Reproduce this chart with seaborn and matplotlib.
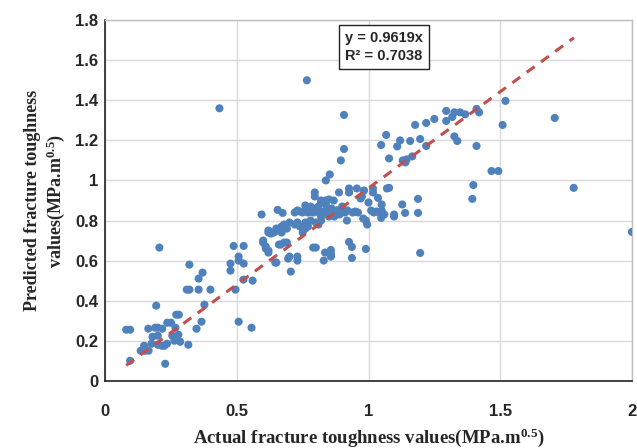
import numpy as np
import pandas as pd
import matplotlib
matplotlib.use("Agg")
import matplotlib.pyplot as plt
import seaborn as sns

# Actual (x) and predicted (y) fracture toughness values
actual = [
    # low region
    0.08, 0.095, 0.206, 0.32, 0.37, 0.355, 0.31, 0.32, 0.355, 0.40, 0.377, 0.366, 0.347,
    0.194, 0.27, 0.28, 0.25, 0.236, 0.164, 0.19, 0.20, 0.217, 0.267, 0.18, 0.20, 0.255,
    0.278, 0.263, 0.285, 0.316, 0.176, 0.20, 0.215, 0.225, 0.235, 0.148, 0.135, 0.15,
    0.165, 0.095, 0.228, 0.507, 0.556, 0.434,
    # 0.45 - 0.7
    0.488, 0.526, 0.507, 0.507, 0.476, 0.526, 0.476, 0.525, 0.56, 0.495,
    0.60, 0.61, 0.62, 0.62, 0.64, 0.63, 0.65, 0.66, 0.594, 0.655, 0.674,
    0.62, 0.645, 0.65, 0.67, 0.68, 0.70, 0.69, 0.67, 0.60, 0.61, 0.62,
    0.667, 0.68, 0.69, 0.646, 0.705, 0.70, 0.695, 0.73, 0.73,
    # 0.7 - 0.9 lower
    0.74, 0.76, 0.77, 0.75, 0.81, 0.80, 0.79, 0.83, 0.835, 0.857, 0.857,
    0.72, 0.73, 0.76, 0.78, 0.80, 0.82, 0.766,
    # main band ~0.84
    0.72, 0.73, 0.74, 0.75, 0.76, 0.77, 0.78, 0.79, 0.80, 0.81, 0.82, 0.83, 0.84,
    0.85, 0.86, 0.87, 0.88, 0.89, 0.90, 0.91, 0.92, 0.94, 0.95, 0.96, 1.01, 1.02,
    1.03, 1.04, 0.77, 0.79, 0.81, 0.86, 0.88, 0.90, 0.82, 0.85, 0.87, 0.89,
    0.76, 0.78,
    # 0.8 - 1.1 upper
    0.895, 0.853, 0.838, 0.907, 0.907, 0.796, 0.796, 0.888, 0.926, 0.926, 0.956,
    0.983, 1.017, 1.017, 1.07, 0.838, 0.838, 0.868, 0.85, 0.82, 0.82, 0.97, 0.975,
    1.0, 1.05, 1.05, 1.036, 1.078, 1.097, 1.097, 1.128, 1.139, 1.188, 1.188, 1.196,
    0.918, 0.98, 0.99, 0.995, 1.048, 1.06, 0.926, 0.937, 0.937, 0.99, 0.857, 0.857,
    # upper right
    1.048, 1.067, 1.078, 1.109, 1.12, 1.158, 1.13, 1.14, 1.145, 1.166, 1.177, 1.196,
    1.219, 1.219, 1.25, 1.295, 1.295, 1.318, 1.326, 1.348, 1.367, 1.326, 1.337, 1.41,
    1.41, 1.42, 1.509, 1.52, 1.467, 1.493, 1.398, 1.394, 1.707, 1.779, 2.0,
]
predicted = [
    # low region
    0.255, 0.255, 0.665, 0.58, 0.54, 0.51, 0.455, 0.455, 0.455, 0.455, 0.38, 0.295, 0.26,
    0.375, 0.33, 0.33, 0.29, 0.29, 0.26, 0.265, 0.265, 0.26, 0.265, 0.22, 0.225, 0.225,
    0.23, 0.20, 0.195, 0.18, 0.185, 0.18, 0.175, 0.175, 0.185, 0.175, 0.15, 0.15,
    0.15, 0.10, 0.085, 0.295, 0.265, 1.36,
    # 0.45 - 0.7
    0.673, 0.673, 0.62, 0.60, 0.585, 0.585, 0.55, 0.505, 0.50, 0.455,
    0.70, 0.67, 0.65, 0.75, 0.74, 0.735, 0.59, 0.68, 0.83, 0.853, 0.838,
    0.74, 0.745, 0.76, 0.77, 0.78, 0.79, 0.76, 0.74, 0.69, 0.66, 0.64,
    0.68, 0.69, 0.69, 0.59, 0.545, 0.62, 0.61, 0.62, 0.60,
    # 0.7 - 0.9 lower
    0.77, 0.76, 0.77, 0.74, 0.78, 0.665, 0.665, 0.60, 0.64, 0.64, 0.62,
    0.78, 0.79, 0.79, 0.80, 0.79, 0.80, 1.50,
    # main band ~0.84
    0.84, 0.85, 0.845, 0.84, 0.85, 0.84, 0.845, 0.84, 0.85, 0.84, 0.845, 0.84, 0.85,
    0.84, 0.845, 0.84, 0.85, 0.84, 0.845, 0.84, 0.85, 0.84, 0.845, 0.84, 0.85, 0.84,
    0.845, 0.84, 0.86, 0.86, 0.87, 0.86, 0.85, 0.87, 0.82, 0.82, 0.82, 0.83,
    0.875, 0.87,
    # 0.8 - 1.1 upper
    1.10, 1.03, 1.00, 1.327, 1.157, 0.94, 0.92, 0.94, 0.96, 0.94, 0.96,
    0.95, 0.96, 0.94, 0.96, 0.90, 0.88, 0.90, 0.905, 0.90, 0.89, 0.91, 0.92,
    0.89, 0.88, 0.85, 0.913, 0.963, 0.83, 0.82, 0.88, 0.838, 0.838, 0.908, 0.638,
    0.80, 0.81, 0.80, 0.78, 0.813, 0.83, 0.693, 0.668, 0.613, 0.658, 0.653, 0.628,
    # upper right
    1.177, 1.227, 1.11, 1.17, 1.20, 1.197, 1.10, 1.09, 1.105, 1.12, 1.277, 1.207,
    1.287, 1.172, 1.307, 1.347, 1.297, 1.317, 1.34, 1.34, 1.33, 1.22, 1.197, 1.172,
    1.357, 1.34, 1.277, 1.397, 1.047, 1.047, 0.977, 0.908, 1.312, 0.963, 0.743,
]

slope = 0.9619
r2 = 0.7038
trend_x = [0.08, 1.78]

x_ticks = [0, 0.5, 1, 1.5, 2]
y_ticks = [0, 0.2, 0.4, 0.6, 0.8, 1.0, 1.2, 1.4, 1.6, 1.8]

df = pd.DataFrame({"actual": actual, "predicted": predicted})
trend = pd.DataFrame({"x": trend_x, "y": [slope * v for v in trend_x]})

sns.set_theme(style="white")
plt.rcParams["font.family"] = ["Liberation Sans", "DejaVu Sans"]
plt.rcParams["mathtext.fontset"] = "custom"
plt.rcParams["mathtext.rm"] = "Liberation Serif:bold"
plt.rcParams["mathtext.bf"] = "Liberation Serif:bold"
plt.rcParams["mathtext.it"] = "Liberation Serif:bold"

fig = plt.figure(figsize=(6.37, 4.48), dpi=100)
ax = fig.add_axes([0.165, 0.150, 0.827, 0.805])

sns.scatterplot(data=df, x="actual", y="predicted", ax=ax, color="#4F81BD",
                s=34, edgecolor="none", linewidth=0, zorder=3, clip_on=True)
sns.lineplot(data=trend, x="x", y="y", ax=ax, color="#C0504D", linewidth=2.2,
             linestyle=(0, (3.2, 2.6)), zorder=4)

ax.set_xlim(0, 2)
ax.set_ylim(0, 1.8)
ax.set_xticks(x_ticks)
ax.set_yticks(y_ticks)
ax.set_xticklabels([f"{v:g}" for v in x_ticks], fontweight="bold", fontsize=12)
ax.set_yticklabels([f"{v:g}" for v in y_ticks], fontweight="bold", fontsize=12)
ax.tick_params(axis="both", length=0)
ax.tick_params(axis="x", pad=17)
ax.tick_params(axis="y", pad=5)
ax.grid(True, color="#D9D9D9", linewidth=1.0, zorder=0)
ax.set_axisbelow(True)

for side in ["left", "bottom"]:
    ax.spines[side].set_color("#222222")
    ax.spines[side].set_linewidth(1.2)
for side in ["top", "right"]:
    ax.spines[side].set_color("#BFBFBF")
    ax.spines[side].set_linewidth(1.0)

ax.set_xlabel("Actual fracture toughness values(MPa.m$^{0.5}$)",
              fontfamily="Liberation Serif", fontweight="bold", fontsize=13.5)
ax.xaxis.set_label_coords(0.5, -0.128)
ax.set_ylabel("Predicted fracture toughness\nvalues(MPa.m$^{0.5}$)",
              fontfamily="Liberation Serif", fontweight="bold", fontsize=13, labelpad=6)

ax.text(0.455, 0.925, f"y = {slope}x\nR² = {r2}", transform=ax.transAxes,
        fontsize=10.5, fontweight="bold", va="center", ha="left", linespacing=1.4,
        bbox=dict(boxstyle="square,pad=0.4", facecolor="white", edgecolor="#222222",
                  linewidth=1.0), zorder=5)

fig.savefig("out.png", dpi=100)
